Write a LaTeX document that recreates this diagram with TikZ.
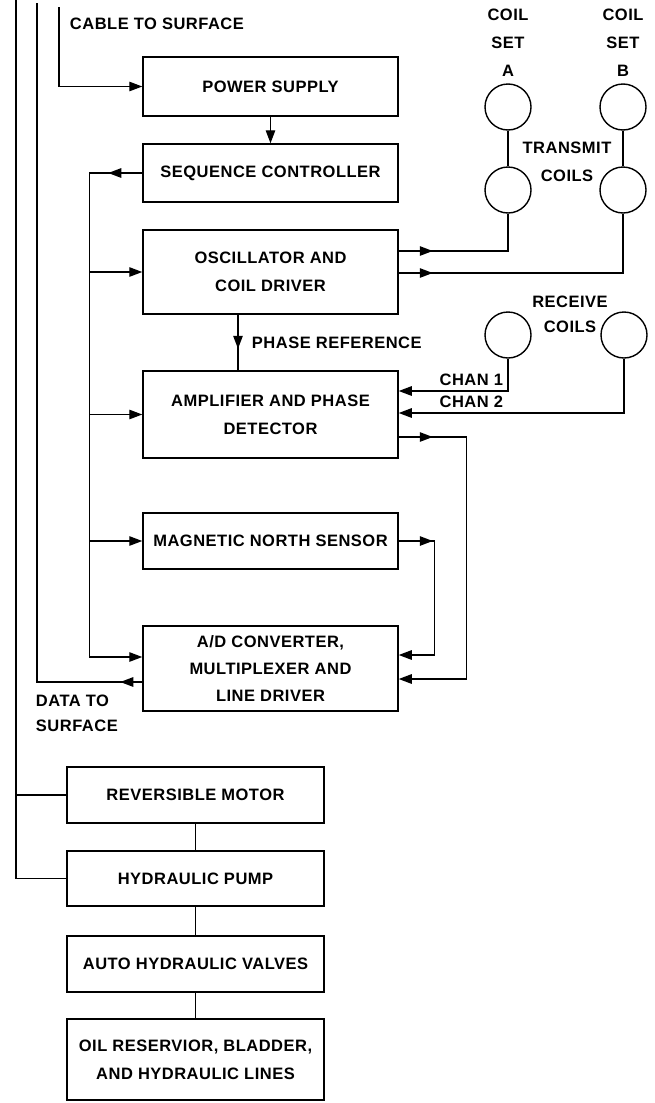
\documentclass[tikz,border=0pt]{standalone}
\usepackage{fontspec}
\setmainfont{Liberation Sans}[LetterSpace=3.0]
\usetikzlibrary{arrows.meta,positioning,decorations.markings}

\tikzset{
  blockbox/.style={draw,line width=1.5pt,minimum width=255pt,inner sep=2pt,align=center},
  coil/.style={draw,line width=1.4pt,circle,minimum size=46pt,inner sep=0pt},
  arr/.style={-{Triangle[length=13pt,width=9.5pt]}},
  midarrow/.style={postaction={decorate},decoration={markings,
      mark=at position #1 with {\arrow{Triangle[length=13pt,width=9.5pt]}}}},
  midarrow/.default=34pt,
}

\begin{document}
\begin{tikzpicture}[x=1pt,y=-1pt,line width=1.3pt,font=\bfseries\fontsize{16.5}{28}\selectfont]
\useasboundingbox (0,0) rectangle (655,1103);

\node[blockbox,minimum height=59pt] (ps) at (270.5,86.5) {POWER SUPPLY};
\node[blockbox,minimum height=58pt] (seq) at (270.5,173) {SEQUENCE CONTROLLER};
\node[blockbox,minimum height=84pt] (osc) at (270.5,272) {OSCILLATOR AND\\COIL DRIVER};
\node[blockbox,minimum height=87pt] (amp) at (270.5,414.5) {AMPLIFIER AND PHASE\\DETECTOR};
\node[blockbox,minimum height=56pt] (mag) at (270.5,541) {MAGNETIC NORTH SENSOR};
\node[blockbox,minimum height=85pt] (ad) at (270.5,668.5) {A/D CONVERTER,\\[-1pt]MULTIPLEXER AND\\[-1pt]LINE DRIVER};
\node[blockbox,minimum width=257pt,minimum height=56pt] (motor) at (195.5,795) {REVERSIBLE MOTOR};
\node[blockbox,minimum width=257pt,minimum height=55pt] (pump) at (195.5,878.5) {HYDRAULIC PUMP};
\node[blockbox,minimum width=257pt,minimum height=56pt] (valves) at (195.5,964) {AUTO HYDRAULIC VALVES};
\node[blockbox,minimum width=257pt,minimum height=81pt] (oil) at (195.5,1059.5) {OIL RESERVIOR, BLADDER,\\AND HYDRAULIC LINES};

\node[coil] (ta1) at (508,107) {};
\node[coil] (ta2) at (508,190) {};
\node[coil] (tb1) at (623,107) {};
\node[coil] (tb2) at (623,190) {};
\node[coil] (ra) at (508,335) {};
\node[coil] (rb) at (624,335) {};

\node[align=center] (seta) at (508,43) {COIL\\SET\\A};
\node[align=center] (setb) at (623,43) {COIL\\SET\\B};
\node[align=center] (trans) at (567,162) {TRANSMIT\\COILS};
\node[align=center] (recv) at (570,314) {RECEIVE\\[-3pt]COILS};
\node[anchor=west] (cablelbl) at (66,24) {CABLE TO SURFACE};
\node[anchor=west] (phref) at (248,343) {PHASE REFERENCE};
\node[anchor=east] (ch1) at (507,380) {CHAN 1};
\node[anchor=east] (ch2) at (507,402) {CHAN 2};
\node[anchor=north west,align=left] (datalbl) at (32,691) {DATA TO\\[-3pt]SURFACE};

\coordinate (cabletop) at (59,7);
\coordinate (datatop) at (37,3);
\coordinate (pwrtop) at (16,0);
\coordinate (bus) at (89.5,175);

\draw[arr] (cabletop) |- (ps.west);
\draw[arr] (ps) -- (seq);
\draw[arr,midarrow] (seq.west) -- (seq.west -| bus) |- ([yshift=11.5pt]ad.west);
\draw[arr] (osc.west -| bus) -- (osc.west);
\draw[arr] (amp.west -| bus) -- (amp.west);
\draw[arr] (mag.west -| bus) -- (mag.west);

\draw (ta1) -- (ta2);
\draw (tb1) -- (tb2);
\draw[midarrow] ([yshift=21pt]osc.east) -| (ta2);
\draw[midarrow] ([yshift=-1pt]osc.east) -| (tb2);
\draw[midarrow] ([xshift=-32.5pt]osc.south) -- ([xshift=-32.5pt]amp.north);

\draw[arr] (ra) |- ([yshift=23.5pt]amp.east);
\draw[arr] (rb) |- ([yshift=1.5pt]amp.east);
\draw[arr,midarrow] ([yshift=-22.5pt]amp.east) -- ++(68,0) |- ([yshift=-10.5pt]ad.east);
\draw[arr,midarrow] (mag.east) -- ++(36,0) |- ([yshift=13.5pt]ad.east);
\draw[midarrow=22pt] ([yshift=-13.5pt]ad.west) -| (datatop);

\draw (pwrtop) |- (pump.west);
\draw (motor.west) -- (motor.west -| pwrtop);
\draw (motor) -- (pump);
\draw (pump) -- (valves);
\draw (valves) -- (oil);
\end{tikzpicture}
\end{document}
